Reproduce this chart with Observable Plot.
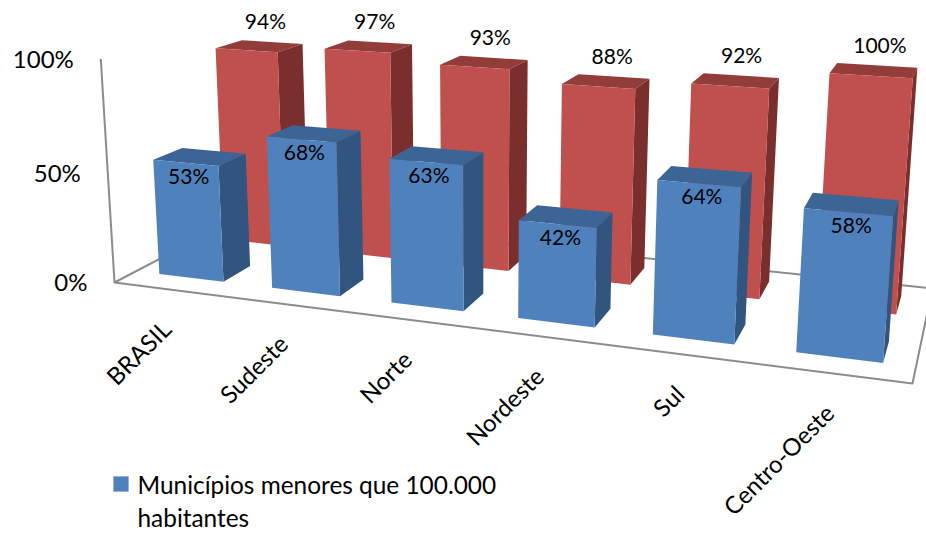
<!DOCTYPE html>
<html lang="pt">
<head>
<meta charset="utf-8">
<style>html,body{margin:0;padding:0;background:#fff;overflow:hidden}</style>
<script src="https://cdn.jsdelivr.net/npm/d3@7"></script>
<script src="https://cdn.jsdelivr.net/npm/@observablehq/plot@0.6"></script>
</head>
<body>
<div id="chart"></div>
<script>
const categories = ["BRASIL", "Sudeste", "Norte", "Nordeste", "Sul", "Centro-Oeste"];
const smallCities = [0.53, 0.68, 0.63, 0.42, 0.64, 0.58];
const otherCities = [0.94, 0.97, 0.93, 0.88, 0.92, 1.00];
const axisTicks = [0, 0.5, 1];
const legendLines = ["Municípios menores que 100.000", "habitantes"];

// Perspective camera: u along categories (0-1), t depth (0-1), v value (0-1)
function project(u, t, v) {
  const w = -0.1707 * u + 0.1615 * t + 1;
  const fx = 642.3 * u + 167.1 * t + 114;
  const fy = 35.6 * u - 32.3 * t + 282;
  const e = 0.036 * v;
  const d = w - e;
  return {x: (fx - e * 480) / d, y: (fy - e * 6250) / d};
}
const N = categories.length, half = 0.048;

function faces(values, t0, t1, kind) {
  return values.flatMap((v, i) => {
    const c = (i + 0.5) / N, a = c - half, b = c + half;
    const corners = {
      front: [[a, t0, 0], [b, t0, 0], [b, t0, v], [a, t0, v]],
      side: [[b, t0, 0], [b, t1, 0], [b, t1, v], [b, t0, v]],
      top: [[a, t0, v], [b, t0, v], [b, t1, v], [a, t1, v]]
    }[kind];
    return corners.map(p => ({id: i, ...project(...p)}));
  });
}
function barMarks(values, t0, t1, colors) {
  return ["top", "side", "front"].map(kind =>
    Plot.line(faces(values, t0, t1, kind), {
      x: "x", y: "y", z: "id", fill: colors[kind], stroke: "none"
    }));
}
const blue = {front: "#4f81bd", side: "#31557f", top: "#3c6494"};
const red = {front: "#c0504d", side: "#7a2f2d", top: "#933d3b"};
const blueT = [0.15, 0.36], redT = [0.65, 0.87];
const pct = d3.format(".0%");

const frame = [[0,0,1],[0,0,0],[1,0,0],[1,1,0],[0,1,0],[0,0,0]].map(p => project(...p));

const redLabels = otherCities.map((v, i) => ({...project((i + 0.5) / N, (redT[0] + redT[1]) / 2, v), label: pct(v)}));
const blueLabels = smallCities.map((v, i) => ({...project((i + 0.5) / N, blueT[0], v), label: pct(v)}));
const tickRows = axisTicks.map(v => ({...project(0, 0, v), label: pct(v)}));
const catRows = categories.map((c, i) => ({...project((i + 0.5) / N, 0, 0), label: c}));

const chart = Plot.plot({
  width: 926,
  height: 534,
  margin: 0,
  x: {domain: [0, 926], range: [0, 926], axis: null},
  y: {domain: [0, 534], range: [0, 534], axis: null},
  style: {fontFamily: "Lato, sans-serif", background: "#fff", color: "#000"},
  marks: [
    Plot.line(frame, {x: "x", y: "y", stroke: "#8c8c8c", strokeWidth: 2}),
    ...barMarks(otherCities, redT[0], redT[1], red),
    ...barMarks(smallCities, blueT[0], blueT[1], blue),
    Plot.text(redLabels, {x: "x", y: "y", text: "label", dx: 6, dy: -24, fontSize: 21, fill: "#000"}),
    Plot.text(blueLabels, {x: "x", y: "y", text: "label", dx: 3, dy: 14, fontSize: 21, fill: "#000"}),
    Plot.text(tickRows, {x: "x", y: "y", text: "label", dx: -27, dy: 1, textAnchor: "end", fontSize: 24, fill: "#000"}),
    Plot.text(catRows, {x: "x", y: "y", text: "label", dx: -3, dy: 36, rotate: -45, textAnchor: "end", fontSize: 24, fill: "#000"}),
    Plot.dot([0], {x: () => 120.5, y: () => 483.5, symbol: "square", r: 8.6, fill: blue.front, stroke: "none"}),
    Plot.text(legendLines, {x: () => 137, y: (d, i) => 486 + i * 33, text: d => d, textAnchor: "start", fontSize: 24.4, fill: "#000"})
  ]
});
document.getElementById("chart").append(chart);
</script>
</body>
</html>
